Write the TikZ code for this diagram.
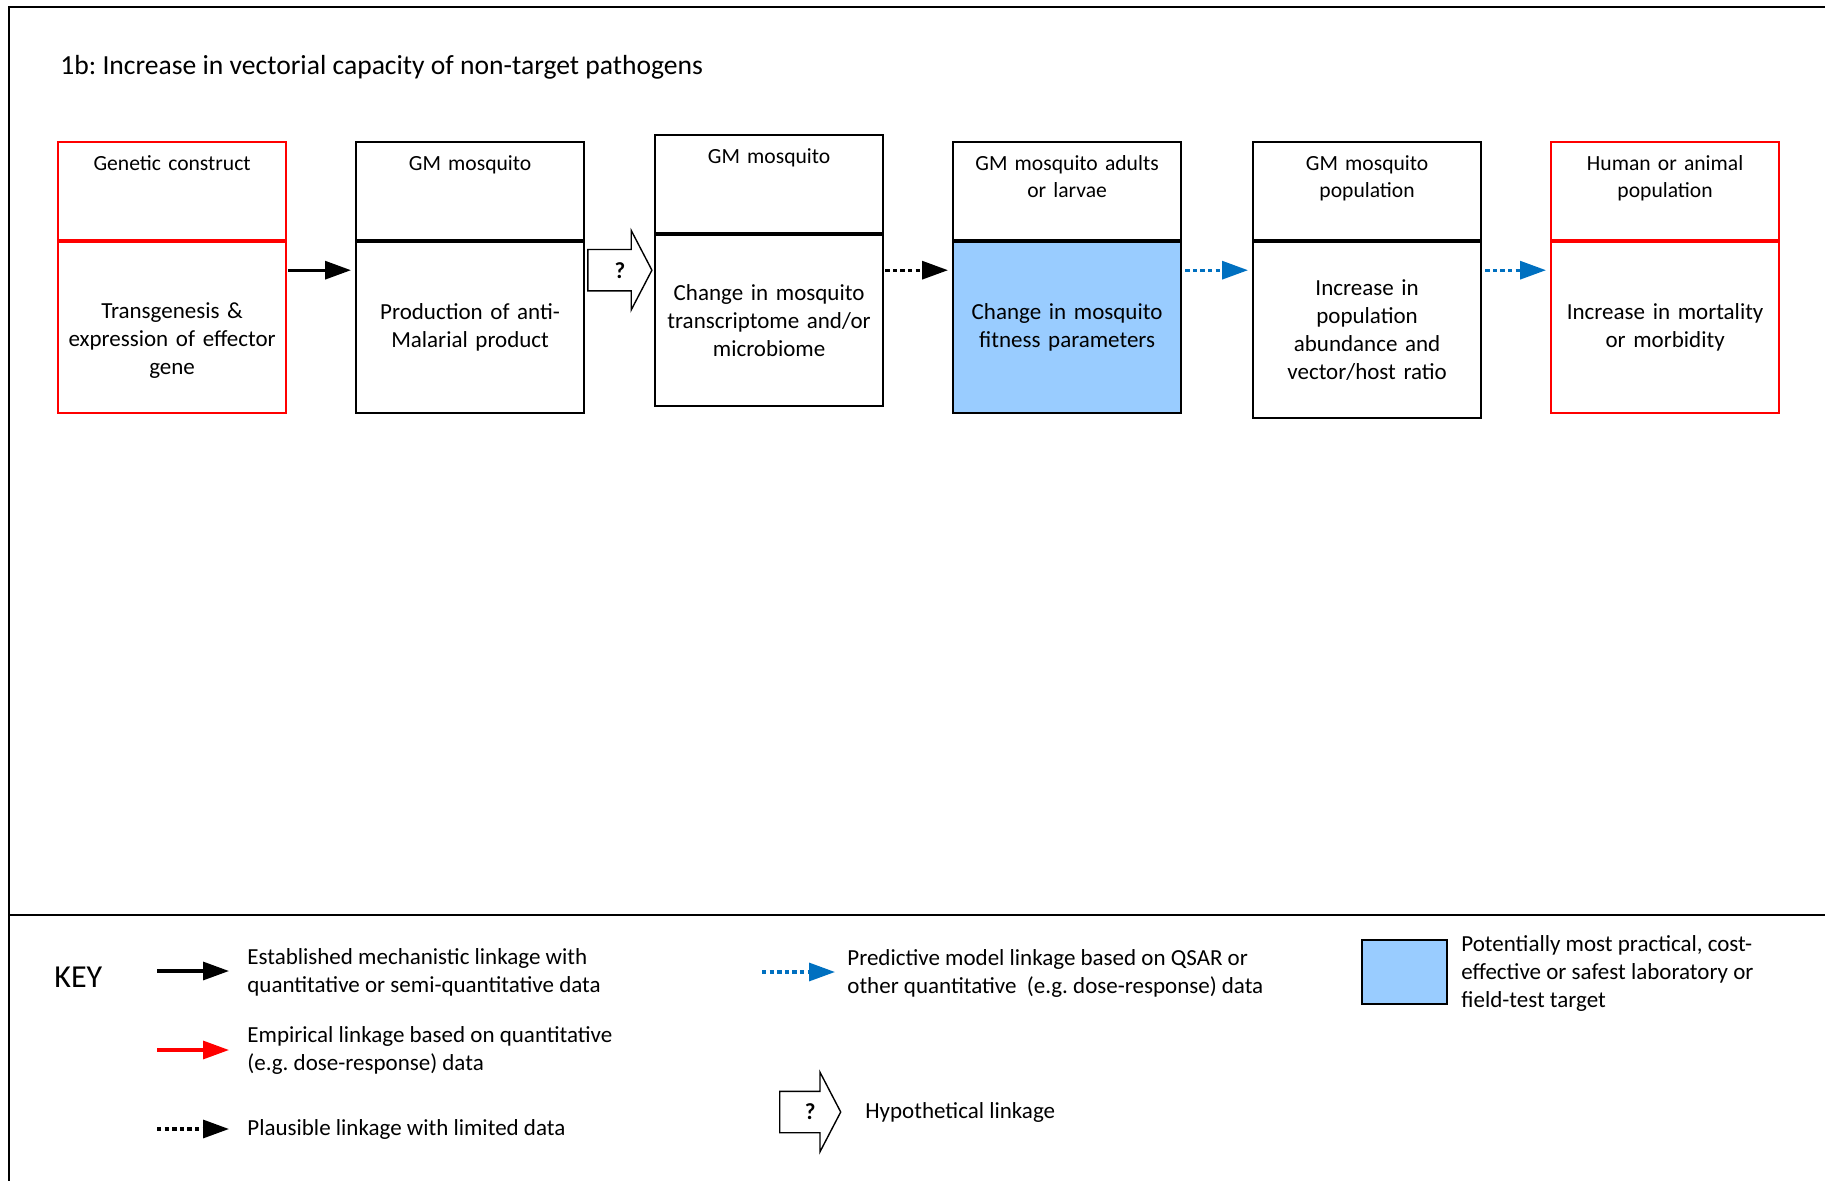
\documentclass[tikz,border=0pt]{standalone}
\usepackage{fontspec}
\setmainfont{Carlito}
\usetikzlibrary{positioning,arrows.meta,shapes.arrows,calc}

\definecolor{linkblue}{HTML}{0070C0}
\definecolor{targetblue}{HTML}{99CCFF}
\definecolor{boxred}{HTML}{FF0000}

\newcommand{\hdrfont}{\fontsize{10.8}{13.4}\selectfont}
\newcommand{\txtfont}{\fontsize{11.5}{14}\selectfont}
\frenchspacing

\begin{document}
\begin{tikzpicture}[x=0.5pt, y=-0.5pt,
    hdr/.style={draw, line width=1.1pt, anchor=north west, minimum width=114pt, text width=106pt,
      inner xsep=4pt, inner ysep=5pt, align=center, font=\hdrfont, text height=9.3pt, text depth=29.7pt},
    bdy/.style={draw, line width=1.1pt, minimum width=114pt, minimum height=85.5pt, text width=106pt,
      inner xsep=4pt, align=center, font=\txtfont},
    redbox/.style={draw=boxred},
    solidlink/.style={line width=1.6pt, -{Triangle[length=13pt,width=9pt]}},
    dotlink/.style={solidlink, dash pattern=on 2.2pt off 1.6pt},
    predlink/.style={dotlink, color=linkblue},
    emplink/.style={solidlink, color=boxred},
    hypo/.style={single arrow, draw, line width=0.7pt, fill=white, anchor=tail, single arrow head extend=9.5pt,
      single arrow tip angle=125, minimum height=#1, inner xsep=0pt, inner ysep=6.5pt,
      text height=7pt, text depth=0pt},
    qmark/.style={inner sep=0pt, font=\txtfont\bfseries},
    keytext/.style={anchor=west, inner sep=0pt, align=left, font=\txtfont}]
  \useasboundingbox (0,0) rectangle (1825,1181);
  \draw[line width=1.2pt] (1825,7) -- (9,7) -- (9,1181);
  \draw[line width=1pt] (9,915) -- (1825,915);

  \node[anchor=west, inner sep=0pt, font=\fontsize{13.8}{16}\selectfont] (title) at (60,67)
    {1b: Increase in vectorial capacity of non-target pathogens};

  \node[hdr, redbox] (h1) at (57,141) {Genetic construct};
  \node[bdy, redbox, below=0pt of h1, text height=21pt] (b1) {Transgenesis \&\\expression of effector\\gene};
  \node[hdr] (h2) at (355,141) {GM mosquito};
  \node[bdy, below=0pt of h2] (b2) {Production of anti-\\Malarial product};
  \node[hdr] (h3) at (654,134) {GM mosquito};
  \node[bdy, below=0pt of h3] (b3) {Change in mosquito\\transcriptome and/or\\microbiome};
  \node[hdr] (h4) at (952,141) {GM mosquito adults\\or larvae};
  \node[bdy, fill=targetblue, below=0pt of h4] (b4) {Change in mosquito\\fitness parameters};
  \node[hdr] (h5) at (1252,141) {GM mosquito\\population};
  \node[bdy, below=0pt of h5, minimum height=88pt] (b5) {Increase in\\population\\abundance and\\vector/host ratio};
  \node[hdr, redbox] (h6) at (1550,141) {Human or animal\\population};
  \node[bdy, redbox, below=0pt of h6] (b6) {Increase in mortality\\or morbidity};

  \coordinate (ay) at ([yshift=-14.5pt]h1.south);
  \draw[solidlink, shorten <=0.5pt, shorten >=2pt] (b1.east |- ay) -- (b2.west |- ay);
  \node[hypo=32pt] (q1) at ($(b2.east |- ay)+(1pt,0)$) {};
  \node[qmark] (q1m) at ($(q1.tail)!0.5!(q1.tip)$) {?};
  \draw[dotlink, shorten <=0.5pt, shorten >=2pt] (b3.east |- ay) -- (b4.west |- ay);
  \draw[predlink, shorten <=1.5pt, shorten >=2pt] (b4.east |- ay) -- (b5.west |- ay);
  \draw[predlink, shorten <=1.5pt, shorten >=2pt] (b5.east |- ay) -- (b6.west |- ay);

  \node[anchor=west, inner sep=0pt, font=\fontsize{16}{19}\selectfont] (key) at (54,977) {KEY};
  \coordinate (k1a) at (157,971);
  \coordinate (k1b) at (229,971);
  \draw[solidlink] (k1a) -- (k1b);
  \node[keytext] (t1) at (247,972) {Established mechanistic linkage with\\quantitative or semi-quantitative data};
  \coordinate (k2a) at (157,1050);
  \coordinate (k2b) at (229,1050);
  \draw[emplink] (k2a) -- (k2b);
  \node[keytext] (t2) at (247,1050.5) {Empirical linkage based on quantitative\\(e.g. dose-response) data};
  \coordinate (k3a) at (157,1129);
  \coordinate (k3b) at (229,1129);
  \draw[dotlink] (k3a) -- (k3b);
  \node[keytext] (t3) at (247,1129) {Plausible linkage with limited data};
  \coordinate (k4a) at (762,972);
  \coordinate (k4b) at (835,972);
  \draw[predlink] (k4a) -- (k4b);
  \node[keytext] (t4) at (847,973.5) {Predictive model linkage based on QSAR or\\other quantitative~ (e.g. dose-response) data};
  \node[hypo=30.5pt] (q2) at (779,1112) {};
  \node[qmark] (q2m) at ($(q2.tail)!0.5!(q2.tip)$) {?};
  \node[keytext] (t5) at (865,1112) {Hypothetical linkage};
  \node[draw, line width=1.1pt, fill=targetblue, anchor=north west, minimum width=42.5pt, minimum height=32pt] (tgt) at (1361,939) {};
  \node[keytext] (t6) at (1461,973) {Potentially most practical, cost-\\effective or safest laboratory or\\field-test target};
\end{tikzpicture}
\end{document}
